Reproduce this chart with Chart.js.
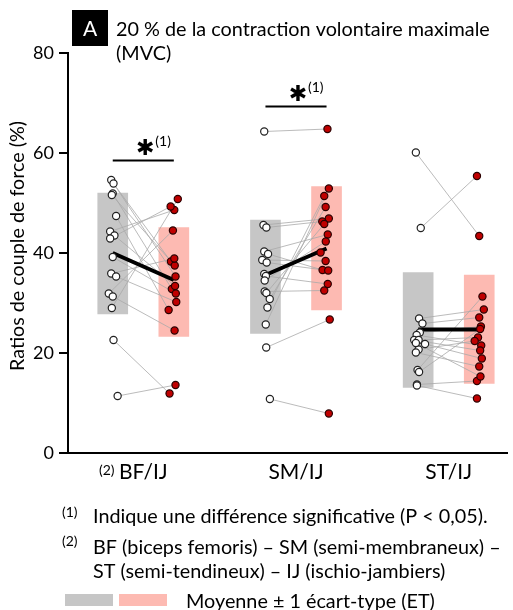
<!DOCTYPE html>
<html>
<head>
<meta charset="utf-8">
<script src="https://cdn.jsdelivr.net/npm/chart.js@4/dist/chart.umd.min.js"></script>
<style>
  html, body { margin: 0; padding: 0; background: #fff; }
  canvas { display: block; }
</style>
</head>
<body>
<canvas id="chart" width="513" height="610"></canvas>
<script>
// Categories and axis ticks
const categories = ["BF/IJ", "SM/IJ", "ST/IJ"];
const yTicks = [0, 20, 40, 60, 80];

// Mean and mean ± 1 SD (grey = first condition, pink = second)
const greyMean = [40.0, 35.6, 24.7];
const greyLow = [27.8, 23.9, 13.1];
const greyHigh = [52.0, 46.6, 36.1];
const pinkMean = [34.6, 40.9, 24.7];
const pinkLow = [23.3, 28.6, 13.9];
const pinkHigh = [45.1, 53.3, 35.6];

// Individual subjects, paired by index (grey -> pink)
const bfGrey = [54.6, 53.9, 51.9, 51.6, 47.4, 44.3, 43.5, 42.9, 39.2, 35.9, 35.3, 31.9, 31.3, 29.0, 22.6, 11.4];
const bfPink = [35.3, 38.3, 32.8, 37.5, 28.6, 48.6, 33.4, 49.3, 31.9, 38.9, 30.2, 44.5, 24.5, 50.8, 11.9, 13.6];
const smGrey = [64.3, 45.6, 45.1, 40.3, 39.8, 38.6, 38.1, 35.8, 35.4, 34.5, 32.3, 32.0, 30.8, 29.1, 25.7, 21.1, 10.8];
const smPink = [64.8, 46.9, 46.3, 43.7, 36.6, 38.4, 36.5, 40.1, 33.8, 42.3, 32.5, 45.8, 49.2, 51.4, 52.9, 26.7, 7.9];
const stGrey = [60.1, 45.0, 26.9, 25.9, 24.1, 23.6, 22.6, 22.6, 21.8, 20.7, 20.1, 16.6, 16.2, 13.7, 13.5, 22.0];
const stPink = [43.4, 55.4, 28.7, 27.1, 25.3, 21.5, 20.5, 23.1, 18.9, 22.4, 17.3, 31.3, 24.8, 14.4, 10.9, 15.3];

// Horizontal scatter of the dots inside each column (x units)
const bfGreyJit = [-0.010, 0.005, 0, -0.006, 0.022, -0.017, 0.011, -0.017, 0, -0.010, 0.022, -0.026, 0, -0.006, 0.005, 0.032];
const bfPinkJit = [0.011, -0.019, -0.013, 0.006, -0.034, 0.003, 0.008, -0.021, 0.013, 0.003, 0.016, -0.006, 0.005, 0.026, -0.028, 0.011];
const smGreyJit = [-0.008, -0.013, 0.006, -0.008, 0.017, -0.021, 0.008, -0.008, 0.003, -0.005, -0.005, 0.006, 0.028, 0.013, 0.002, 0.005, 0.029];
const smPinkJit = [0.006, 0.015, -0.028, 0.008, -0.026, -0.006, 0.011, -0.039, 0.008, -0.005, -0.015, -0.015, -0.006, -0.015, 0.015, 0.021, 0.015];
const stGreyJit = [-0.015, 0.017, 0.006, 0.028, 0.011, -0.010, -0.026, 0.003, 0.045, 0.003, -0.015, -0.004, 0.006, -0.008, -0.008, -0.015];
const stPinkJit = [0, -0.015, 0.030, 0, 0.011, 0.013, 0.006, -0.008, 0.017, -0.030, 0, 0.021, 0.006, -0.015, -0.015, 0.008];

// Significance brackets (category index, height)
const sigCats = [0, 1];
const sigLevels = [58.5, 69.3];

const FONT = "Lato, 'Open Sans', sans-serif";
const SIDE = 0.2;

const groups = [
    { grey: bfGrey, pink: bfPink, gj: bfGreyJit, pj: bfPinkJit },
    { grey: smGrey, pink: smPink, gj: smGreyJit, pj: smPinkJit },
    { grey: stGrey, pink: stPink, gj: stGreyJit, pj: stPinkJit }
];

const greyPoints = [];
const pinkPoints = [];
const connectors = [];
groups.forEach((g, ci) => {
    const c = ci + 1;
    g.grey.forEach((v, i) => {
        const a = { x: c - SIDE + g.gj[i], y: v };
        const b = { x: c + SIDE + g.pj[i], y: g.pink[i] };
        greyPoints.push(a);
        pinkPoints.push(b);
        connectors.push(a, b, { x: c, y: null });
    });
});

const meanLines = [];
categories.forEach((_, ci) => {
    meanLines.push({ x: ci + 1 - SIDE, y: greyMean[ci] }, { x: ci + 1 + SIDE, y: pinkMean[ci] }, { x: ci + 1, y: null });
});

const brackets = [];
sigCats.forEach((ci, k) => {
    brackets.push({ x: ci + 1 - SIDE, y: sigLevels[k] }, { x: ci + 1 + SIDE, y: sigLevels[k] }, { x: ci + 1, y: null });
});

// Font size so that text fills a given width
function fitSize(ctx, text, width, weight) {
    ctx.font = `${weight || ""} 100px ${FONT}`;
    return 100 * width / ctx.measureText(text).width;
}

const annotations = {
    id: "annotations",
    afterDraw(chart) {
        const ctx = chart.ctx;
        const xs = chart.scales.x, ys = chart.scales.y;
        ctx.save();
        ctx.fillStyle = "#000";
        ctx.textBaseline = "middle";

        // Panel letter and title
        ctx.fillRect(72, 10, 36, 36);
        ctx.fillStyle = "#fff";
        ctx.textAlign = "center";
        ctx.font = `21px ${FONT}`;
        ctx.fillText("A", 90, 29);
        ctx.fillStyle = "#000";
        ctx.textAlign = "left";
        const t1 = "20 % de la contraction volontaire maximale";
        const ts = fitSize(ctx, t1, 374);
        ctx.font = `${ts}px ${FONT}`;
        ctx.fillText(t1, 116, 30);
        ctx.fillText("(MVC)", 116, 54);

        // Y axis title
        const yt = "Ratios de couple de force (%)";
        const ys2 = fitSize(ctx, yt, 250);
        ctx.save();
        ctx.translate(18, 246);
        ctx.rotate(-Math.PI / 2);
        ctx.textAlign = "center";
        ctx.font = `${ys2}px ${FONT}`;
        ctx.fillText(yt, 0, 0);
        ctx.restore();

        // Significance stars
        sigCats.forEach((ci, k) => {
            const px = xs.getPixelForValue(ci + 1);
            const py = ys.getPixelForValue(sigLevels[k]);
            ctx.textAlign = "center";
            ctx.font = `bold 22px 'DejaVu Sans'`;
            ctx.fillText("\u2731", px + 2, py - 11);
            ctx.textAlign = "left";
            ctx.font = `14px ${FONT}`;
            ctx.fillText("(1)", px + 12, py - 19);
        });

        // Footnote marker before first category
        ctx.textAlign = "left";
        ctx.font = `14px ${FONT}`;
        ctx.fillText("(2)", 99, 470);

        // Footnotes
        const f1 = "Indique une diff\u00e9rence significative (P < 0,05).";
        const fs = fitSize(ctx, f1, 395);
        ctx.font = `14px ${FONT}`;
        ctx.fillText("(1)", 62, 512);
        ctx.fillText("(2)", 62, 541);
        ctx.font = `${fs}px ${FONT}`;
        ctx.fillText(f1, 93, 517);
        ctx.fillText("BF (biceps femoris) \u2013 SM (semi-membraneux) \u2013", 93, 548);
        ctx.fillText("ST (semi-tendineux) \u2013 IJ (ischio-jambiers)", 93, 572);

        // Legend
        ctx.fillStyle = "#c6c6c6";
        ctx.fillRect(65, 594, 48, 12);
        ctx.fillStyle = "#fdbab2";
        ctx.fillRect(119, 594, 48, 12);
        ctx.fillStyle = "#000";
        ctx.fillText("Moyenne \u00b1 1 \u00e9cart-type (ET)", 186, 602);
        ctx.restore();
    }
};

new Chart(document.getElementById("chart"), {
    type: "scatter",
    data: {
        datasets: [
            {
                type: "scatter",
                data: greyPoints,
                pointRadius: 3.6,
                pointBackgroundColor: "#fff",
                pointBorderColor: "#222",
                pointBorderWidth: 1.2,
                order: 0
            },
            {
                type: "scatter",
                data: pinkPoints,
                pointRadius: 3.6,
                pointBackgroundColor: "#c00000",
                pointBorderColor: "#2a0000",
                pointBorderWidth: 1.2,
                order: 0
            },
            {
                type: "line",
                data: meanLines,
                borderColor: "#000",
                borderWidth: 4,
                pointRadius: 0,
                spanGaps: false,
                order: 1
            },
            {
                type: "line",
                data: brackets,
                borderColor: "#000",
                borderWidth: 2,
                pointRadius: 0,
                spanGaps: false,
                order: 1
            },
            {
                type: "line",
                data: connectors,
                borderColor: "#aaaaaa",
                borderWidth: 0.8,
                pointRadius: 0,
                spanGaps: false,
                order: 2
            },
            {
                type: "bar",
                data: categories.map((_, ci) => ({ x: ci + 1 - SIDE, y: [greyLow[ci], greyHigh[ci]] })),
                backgroundColor: "#c6c6c6",
                barThickness: 30,
                grouped: false,
                order: 3
            },
            {
                type: "bar",
                data: categories.map((_, ci) => ({ x: ci + 1 + SIDE, y: [pinkLow[ci], pinkHigh[ci]] })),
                backgroundColor: "#fdbab2",
                barThickness: 30,
                grouped: false,
                order: 3
            }
        ]
    },
    options: {
        responsive: false,
        animation: false,
        devicePixelRatio: 1,
        layout: { padding: { left: 0, right: 0, top: 53, bottom: 117 } },
        plugins: { legend: { display: false }, tooltip: { enabled: false } },
        scales: {
            x: {
                type: "linear",
                min: 0.507,
                max: 3.387,
                offset: false,
                grid: { display: false, drawTicks: false },
                border: { display: true, color: "#000", width: 2 },
                afterBuildTicks: (scale) => {
                    scale.ticks = categories.map((_, i) => ({ value: i + 1 }));
                },
                afterFit: (scale) => { scale.height = 40; },
                ticks: {
                    color: "#000",
                    padding: 7,
                    maxRotation: 0,
                    autoSkip: false,
                    font: { family: FONT, size: 21 },
                    callback: (v) => categories[v - 1] || ""
                }
            },
            y: {
                min: 0,
                max: 80,
                afterBuildTicks: (scale) => {
                    scale.ticks = yTicks.map(v => ({ value: v }));
                },
                afterFit: (scale) => { scale.width = 68; },
                grid: { drawOnChartArea: false, drawTicks: true, tickLength: 9, color: "#000", lineWidth: 2 },
                border: { display: true, color: "#000", width: 2 },
                ticks: {
                    color: "#000",
                    padding: 5,
                    font: { family: FONT, size: 18 }
                }
            }
        }
    },
    plugins: [annotations]
});
</script>
</body>
</html>
